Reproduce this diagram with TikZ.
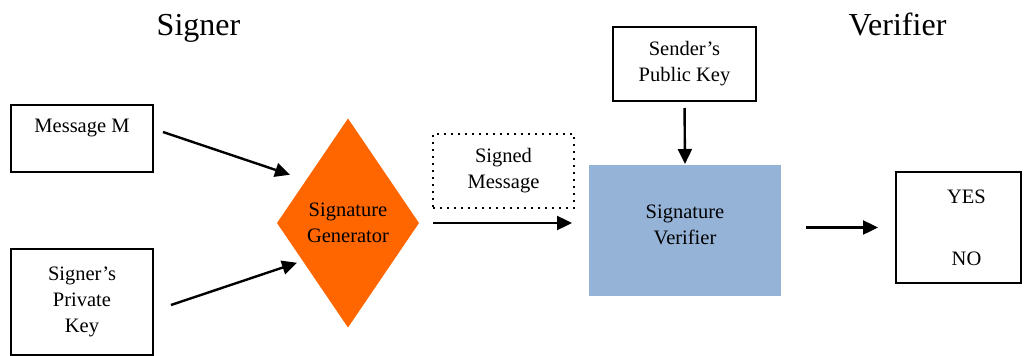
\documentclass[tikz,border=0pt]{standalone}
\usepackage{fontspec}
\setmainfont{Liberation Serif}
\usetikzlibrary{shapes.geometric,arrows.meta}
\definecolor{genorange}{HTML}{FF6600}
\definecolor{verblue}{HTML}{95B3D7}
\begin{document}
\begin{tikzpicture}[x=1pt,y=-1pt,
  box/.style={draw, line width=1.6pt, align=center, outer sep=0pt, inner sep=0pt},
  flow/.style={line width=2.4pt, -{Triangle[length=15pt,width=14pt]}},
  font=\fontsize{20.5}{26}\selectfont]
\useasboundingbox (0,0) rectangle (1026,356);
\node[anchor=base, font=\fontsize{32}{38}\selectfont] (signer) at (198.5,35) {Signer};
\node[anchor=base, font=\fontsize{32}{38}\selectfont] (verifier) at (897.5,35) {Verifier};
\node[box, minimum width=142, minimum height=67] (msg) at (82,138.5) {Message M\\ \mbox{}};
\node[box, minimum width=142, minimum height=106] (key) at (82,302) {Signer’s\\ Private\\ Key};
\node[diamond, fill=genorange, align=center, inner sep=0pt, outer sep=0pt, shape aspect=0.68, minimum width=142, minimum height=209] (gen) at (348,223) {Signature\\ Generator};
\node[box, dash pattern=on 2pt off 5pt, minimum width=141, minimum height=74] (signed) at (503.5,171) {Signed\\ Message};
\node[fill=verblue, align=center, outer sep=0pt, minimum width=192, minimum height=131] (ver) at (685,230.5) {Signature\\ Verifier\\[-14pt] \mbox{}};
\node[box, minimum width=143, minimum height=74] (pub) at (684.5,64) {Sender’s\\ Public Key};
\node[box, minimum width=125, minimum height=111] (out) at (958.5,227.5) {\hspace{16pt}YES\\[36pt] \hspace{16pt}NO};
\draw[flow] ([shift={(10,-6.5)}]msg.east) -- ([shift={(-22.5,4)}]gen.north west);
\draw[flow] ([shift={(18,3)}]key.east) -- ([shift={(-15.5,-12.5)}]gen.south west);
\draw[flow, shorten <=14pt, shorten >=17pt] (gen.east) -- (gen.east -| ver.west);
\draw[flow, shorten <=7pt, shorten >=1pt] (pub.south) -- (ver.north);
\draw[flow, shorten <=25pt, shorten >=18pt] (ver.east |- out.west) -- (out.west);
\end{tikzpicture}
\end{document}
